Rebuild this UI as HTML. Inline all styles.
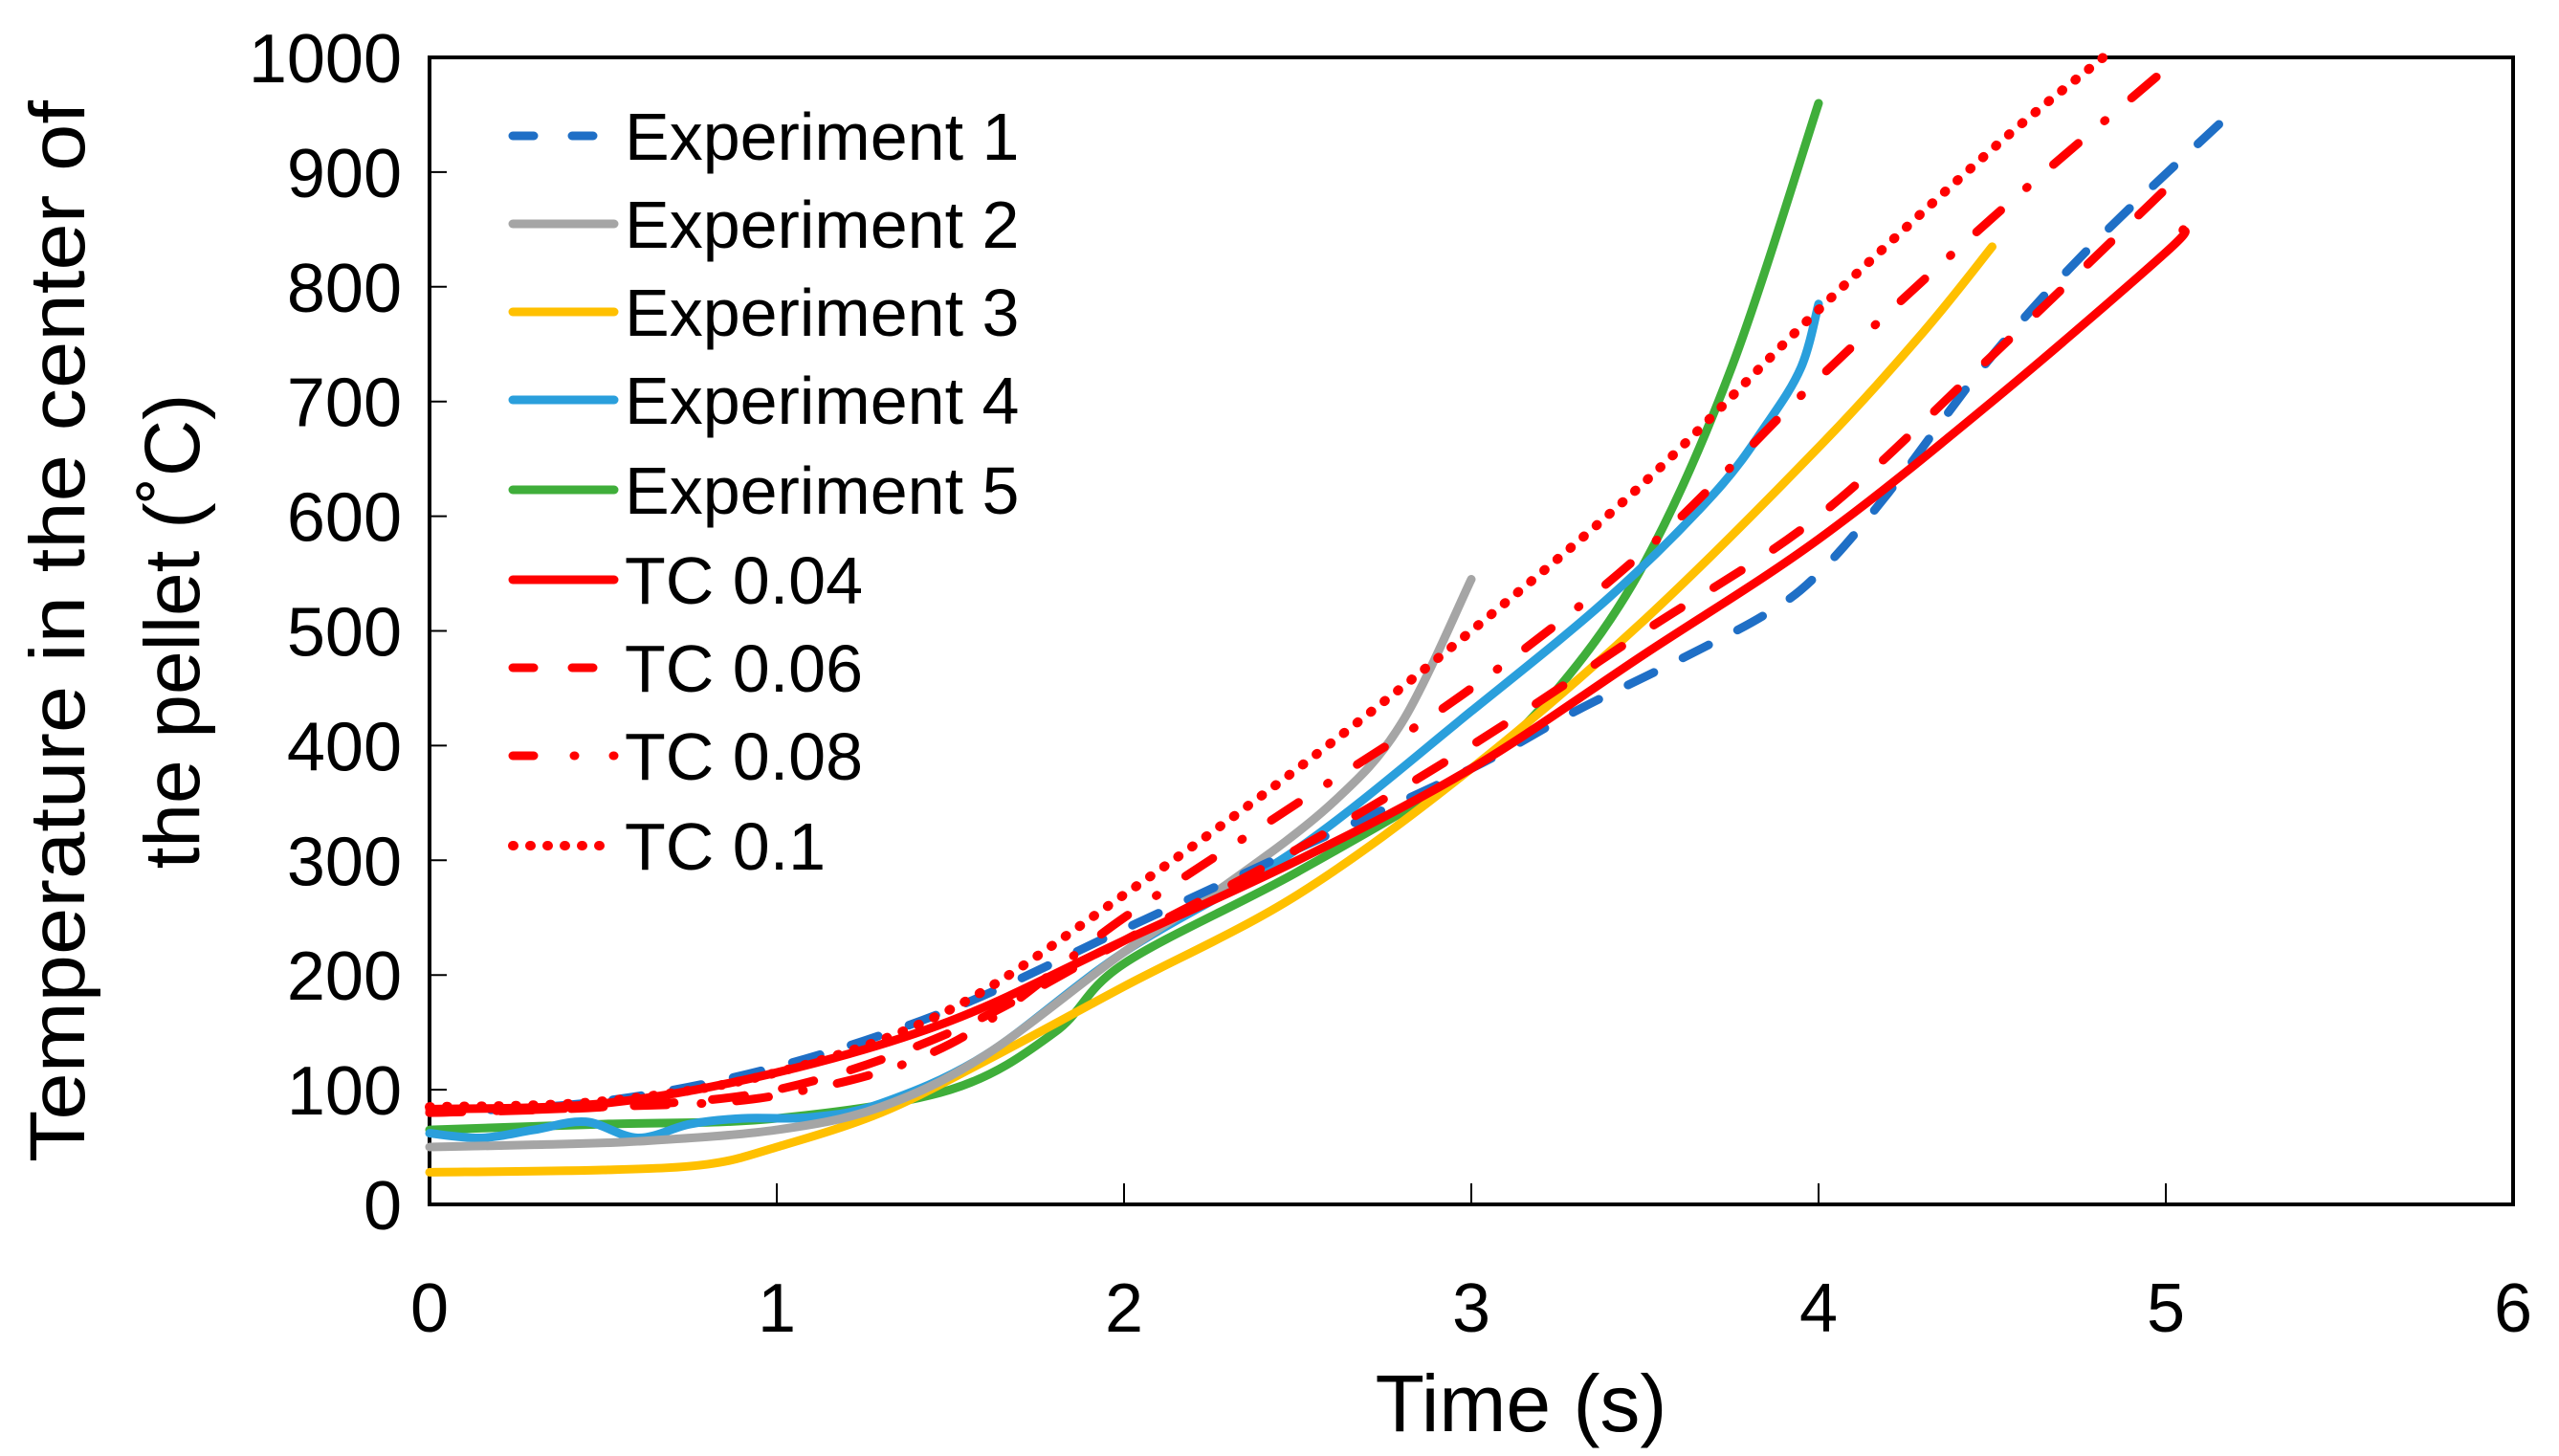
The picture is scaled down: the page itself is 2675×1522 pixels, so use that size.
<!DOCTYPE html>
<html><head><meta charset="utf-8"><style>
html,body{margin:0;padding:0;background:#fff;}
svg{display:block;font-family:"Liberation Sans","DejaVu Sans",sans-serif;}
</style></head><body>
<svg id="chart" width="2675" height="1522" viewBox="0 0 2675 1522">
<g id="axes"></g>
<g id="series"></g>
<g id="legend"></g>
<text x="1590" y="1496" font-size="84" text-anchor="middle">Time (s)</text>
<g transform="translate(0,660) rotate(-90)" font-size="82" text-anchor="middle">
<text x="0" y="88" textLength="1110" lengthAdjust="spacingAndGlyphs">Temperature in the center of</text>
<text x="0" y="208">the pellet (˚C)</text>
</g>
</svg>
<script>
const xTicks=[0,1,2,3,4,5,6];
const yTicks=[0,100,200,300,400,500,600,700,800,900,1000];
const seriesNames=["Experiment 1","Experiment 2","Experiment 3","Experiment 4","Experiment 5","TC 0.04","TC 0.06","TC 0.08","TC 0.1"];
const exp1T=[0,0.5,1,1.5,2,2.5,3,3.3,3.6,3.85,4,4.2,4.5,4.8,5.2];
const exp1V=[80,90,120,170,240,310,380,430,475,515,550,620,740,840,955];
const exp2T=[0,0.3,0.6,1,1.3,1.6,2,2.3,2.6,2.8,3];
const exp2V=[50,52,55,65,85,130,220,280,350,420,545];
const exp3T=[0,0.5,0.8,1,1.3,1.6,2,2.5,3,3.5,4,4.3,4.5];
const exp3V=[28,30,35,50,80,125,190,270,380,510,660,760,835];
const exp4T=[0,0.15,0.3,0.45,0.6,0.75,0.9,1.1,1.3,1.6,2,2.5,3,3.4,3.7,3.85,3.95,4];
const exp4V=[62,58,65,72,58,70,75,76,88,130,220,310,430,530,620,680,730,785];
const exp5T=[0,0.5,1,1.5,1.8,2,2.5,3,3.25,3.5,3.75,4];
const exp5V=[65,70,75,100,150,210,290,380,450,560,730,960];
const tc04T=[0,0.5,1,1.5,2,2.5,3,3.5,4,4.5,5,5.05];
const tc04V=[83,88,115,160,230,300,380,480,580,700,830,850];
const tc06T=[0,0.5,1,1.5,2,2.5,3,3.5,4,4.5,5.05];
const tc06V=[80,85,100,150,230,310,400,500,600,740,900];
const tc08T=[0,0.5,1,1.5,2,2.5,3,3.5,4,4.5,5];
const tc08V=[80,85,95,140,250,350,450,570,720,860,990];
const tc10T=[0,0.5,1,1.5,2,2.5,3,3.5,4,4.5,4.82];
const tc10V=[85,90,115,170,270,380,500,630,780,920,1000];

const L=449,R=2627,T=60,B=1259;
const xs=t=>L+(t/6)*(R-L);
const ys=v=>B-(v/1000)*(B-T);
const NS="http://www.w3.org/2000/svg";
function mk(tag,attrs,parent){const e=document.createElementNS(NS,tag);for(const k in attrs)e.setAttribute(k,attrs[k]);parent.appendChild(e);return e;}
const axes=document.getElementById('axes');
const frame=mk('rect',{x:L,y:T,width:R-L,height:B-T,fill:'none',stroke:'#000','stroke-width':4},axes);


xTicks.forEach(t=>{
  const tk=mk('line',{x1:xs(t),x2:xs(t),y1:B,y2:B-22,stroke:'#000','stroke-width':2},axes);
  
  
  const lb=mk('text',{x:xs(t),y:1392,'font-size':72,'text-anchor':'middle'},axes);lb.textContent=t;
  
  
});
yTicks.forEach(v=>{
  const tk=mk('line',{x1:L,x2:L+18,y1:ys(v),y2:ys(v),stroke:'#000','stroke-width':2},axes);
  
  
  const lb=mk('text',{x:420,y:ys(v)+26,'font-size':72,'text-anchor':'end'},axes);lb.textContent=v;
  
  
});
function smooth(ts,vs){
  const p=ts.map((t,i)=>[xs(t),ys(vs[i])]);
  let d='M'+p[0][0]+' '+p[0][1];
  for(let i=0;i<p.length-1;i++){
    const p0=p[i-1]||p[i],p1=p[i],p2=p[i+1],p3=p[i+2]||p2;
    const c1=[p1[0]+(p2[0]-p0[0])/6,p1[1]+(p2[1]-p0[1])/6];
    const c2=[p2[0]-(p3[0]-p1[0])/6,p2[1]-(p3[1]-p1[1])/6];
    d+=` C${c1[0]} ${c1[1]} ${c2[0]} ${c2[1]} ${p2[0]} ${p2[1]}`;
  }
  return d;
}
const styles=[
 {c:'#1f6fc6',dash:'30 34'},
 {c:'#a5a5a5',dash:''},
 {c:'#ffc000',dash:''},
 {c:'#2a9fdc',dash:''},
 {c:'#3fae3a',dash:''},
 {c:'#ff0000',dash:''},
 {c:'#ff0000',dash:'34 40'},
 {c:'#ff0000',dash:'34 36 1 36'},
 {c:'#ff0000',dash:'1 17'}
];
const data=[[exp1T,exp1V],[exp2T,exp2V],[exp3T,exp3V],[exp4T,exp4V],[exp5T,exp5V],[tc04T,tc04V],[tc06T,tc06V],[tc08T,tc08V],[tc10T,tc10V]];
const sg=document.getElementById('series');
const lg=document.getElementById('legend');
const order=[4,3,2,1,0,5,6,7,8];
order.forEach(i=>{
  const s=styles[i];
  const p=mk('path',{d:smooth(data[i][0],data[i][1]),fill:'none',stroke:s.c,'stroke-width':i==8?10:9,'stroke-dasharray':s.dash,'stroke-linecap':'round','stroke-linejoin':'round'},sg);
  
  
});
const rows=[142,234,326,418,512,606,698,790,884];
seriesNames.forEach((n,i)=>{
  const s=styles[i];
  const y=rows[i];
  const ln=mk('line',{x1:536,x2:642,y1:y,y2:y,stroke:s.c,'stroke-width':i==8?10:9,'stroke-dasharray':i==0||i==6?'22 40':(i==7?'22 42 1 40':s.dash),'stroke-linecap':'round'},lg);
  
  
  const tx=mk('text',{x:653,y:y+25,'font-size':70},lg);tx.textContent=n;
  
  
});
</script>
</body></html>
